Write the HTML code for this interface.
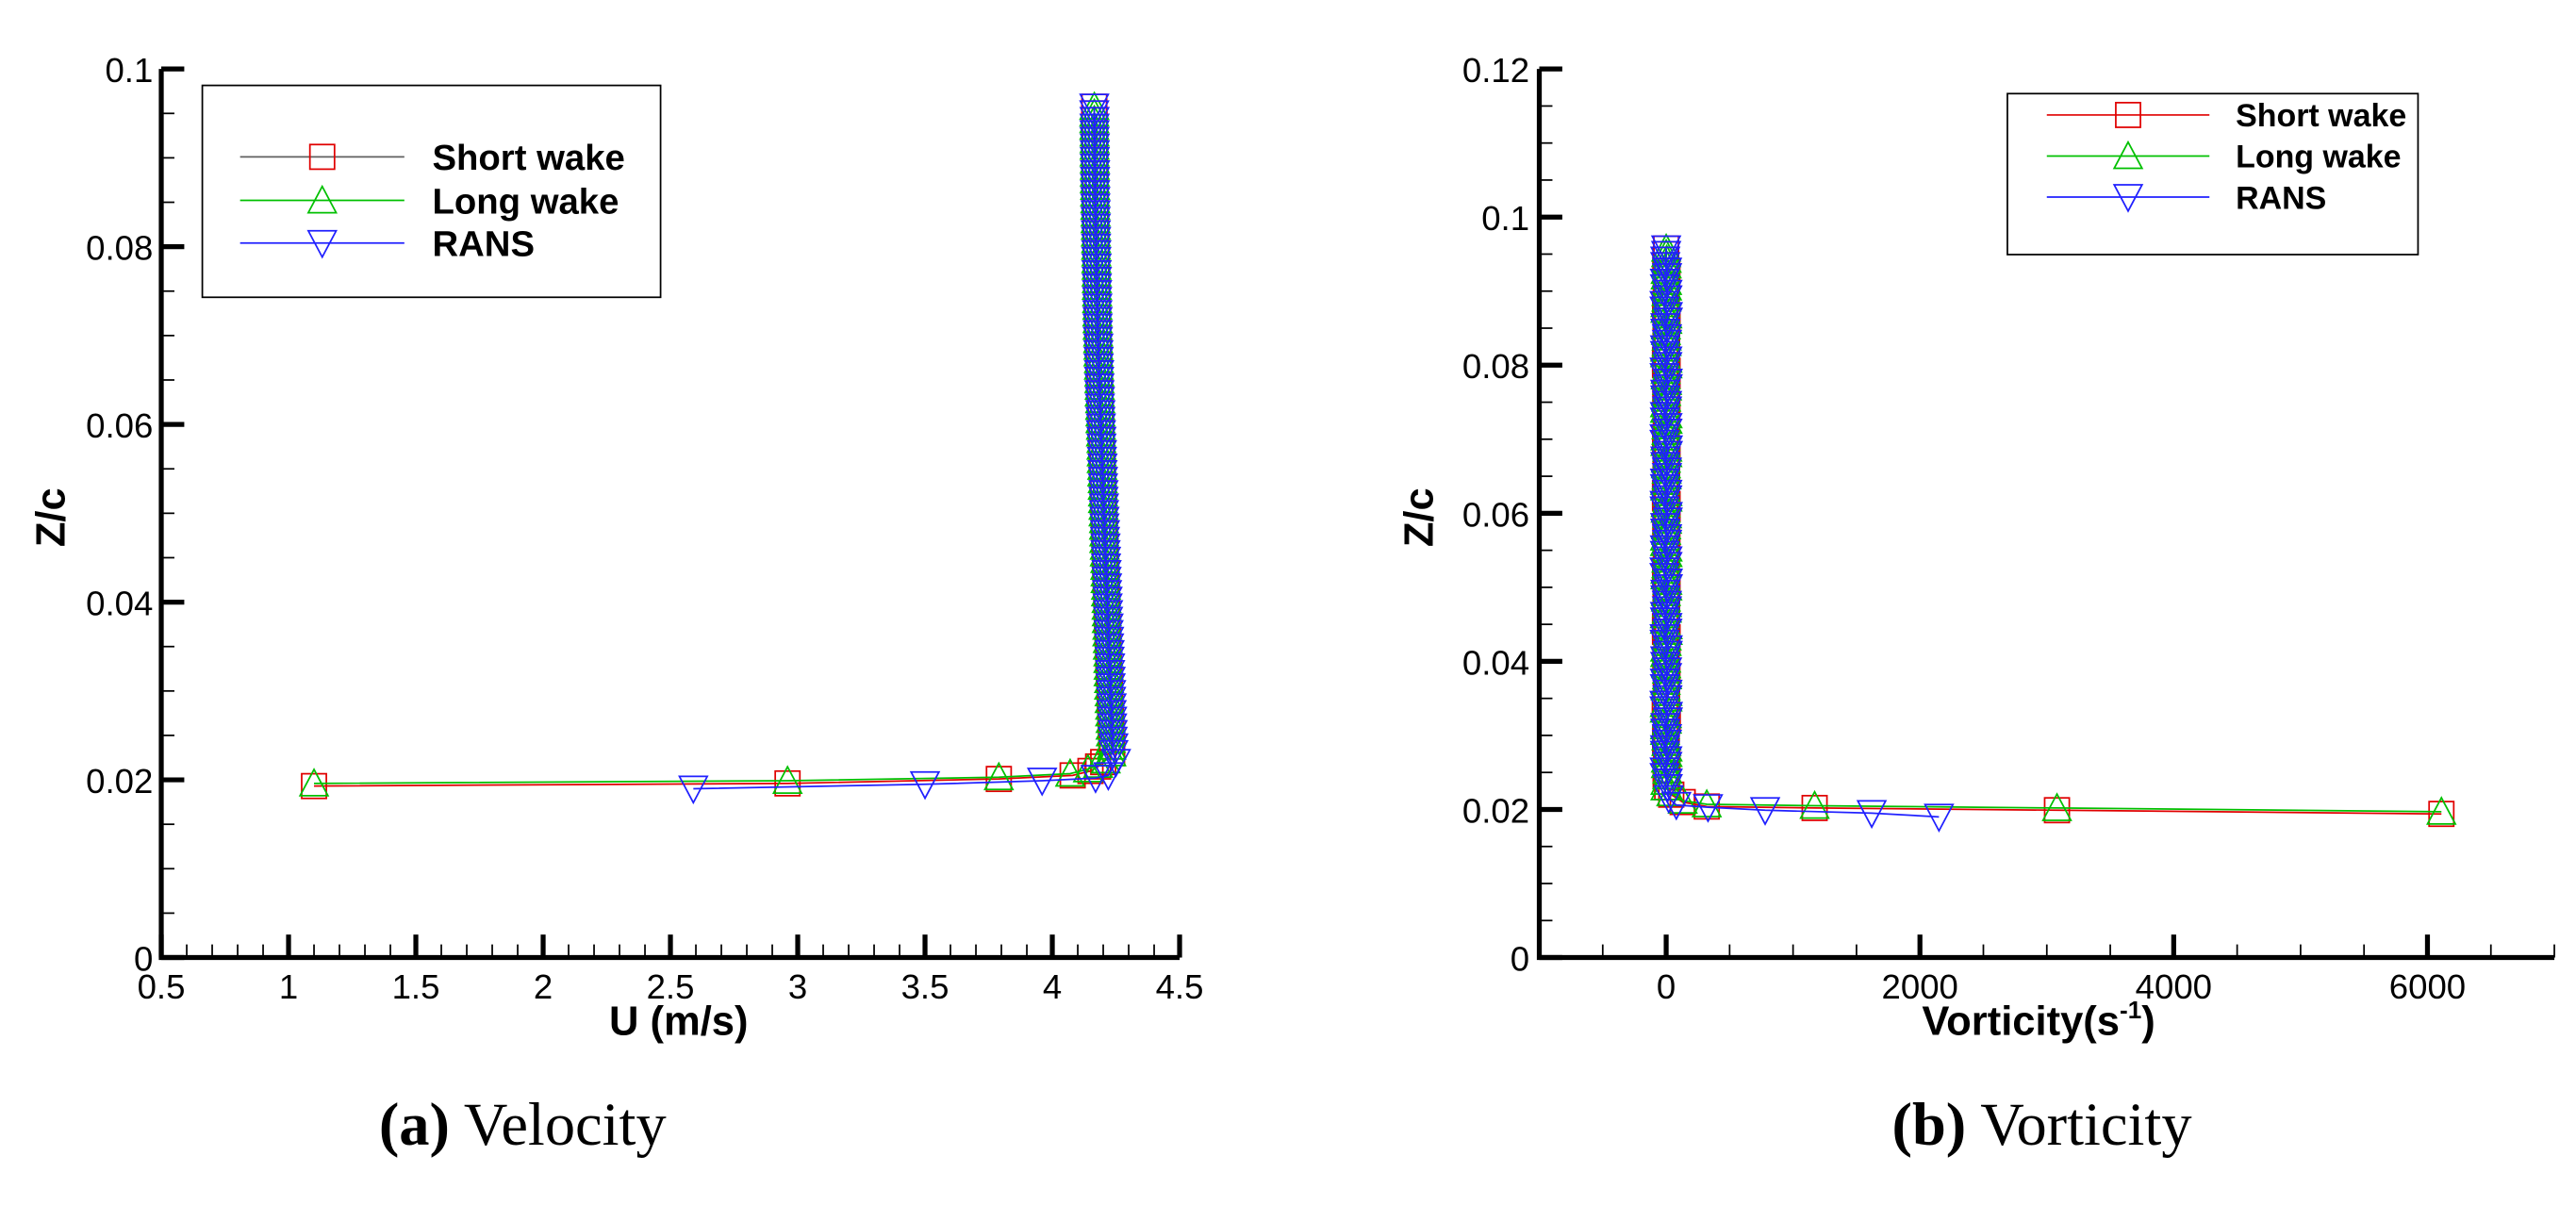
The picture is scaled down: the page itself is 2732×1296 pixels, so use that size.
<!DOCTYPE html>
<html><head><meta charset="utf-8">
<style>
html,body{margin:0;padding:0;background:#fff;}
svg{display:block;}
.tk{font-family:"Liberation Sans",sans-serif;font-size:21px;fill:#000;}
.ttl{font-family:"Liberation Sans",sans-serif;font-size:25px;font-weight:bold;fill:#000;}
.lg{font-family:"Liberation Sans",sans-serif;font-weight:bold;fill:#000;}
.cap{font-family:"Liberation Serif","DejaVu Serif",serif;font-size:37px;fill:#000;}
</style></head>
<body>
<svg id="fig" width="2732" height="1296" viewBox="0 0 1568 744" xmlns="http://www.w3.org/2000/svg">
<g id="chartA"></g>
<g id="chartB"></g>
<text class="cap" x="318" y="697" text-anchor="middle"><tspan font-weight="bold">(a)</tspan> Velocity</text>
<text class="cap" x="1243" y="697" text-anchor="middle"><tspan font-weight="bold">(b)</tspan> Vorticity</text>
</svg>
<script>
// ---- shared column heights (Z/c) ----
const columnZ = [0.023,0.0245,0.026,0.0275,0.029,0.0305,0.032,0.0335,0.035,0.0365,0.038,0.0395,0.041,0.0425,0.044,0.0455,0.047,0.0485,0.05,0.0515,0.053,0.0545,0.056,0.0575,0.059,0.0605,0.062,0.0635,0.065,0.0665,0.068,0.0695,0.071,0.0725,0.074,0.0755,0.077,0.0785,0.08,0.0815,0.083,0.0845,0.086,0.0875,0.089,0.0905,0.092,0.0935,0.095];
const columnZB = [0.02375,0.02525,0.02675,0.02825,0.02975,0.03125,0.03275,0.03425,0.03575,0.03725,0.03875,0.04025,0.04175,0.04325,0.04475,0.04625,0.04775,0.04925,0.05075,0.05225,0.05375,0.05525,0.05675,0.05825,0.05975,0.06125,0.06275,0.06425,0.06575,0.06725,0.06875,0.07025,0.07175,0.07325,0.07475,0.07625,0.07775,0.07925,0.08075,0.08225,0.08375,0.08525,0.08675,0.08825,0.08975,0.09125,0.09275,0.09425,0.09575];

// ---- chart A: velocity ----
const aShortLowU = [1.1,2.96,3.79,4.08,4.15,4.18,4.2];
const aShortLowZ = [0.0193,0.0196,0.0201,0.0205,0.021,0.0215,0.022];
const aLongLowU = [1.1,2.96,3.79,4.07,4.14,4.18,4.21];
const aLongLowZ = [0.0196,0.0199,0.0203,0.0207,0.0212,0.0217,0.0222];
const aRansLowU = [2.59,3.5,3.96,4.17,4.22,4.25];
const aRansLowZ = [0.019,0.0195,0.0199,0.0202,0.0205,0.022];
const aShortColU = [4.235,4.232,4.23,4.228,4.226,4.225,4.222,4.22,4.219,4.217,4.215,4.214,4.212,4.21,4.208,4.207,4.205,4.203,4.202,4.2,4.198,4.197,4.195,4.193,4.192,4.19,4.188,4.187,4.185,4.184,4.182,4.18,4.179,4.177,4.176,4.175,4.174,4.173,4.172,4.171,4.17,4.169,4.168,4.168,4.167,4.167,4.166,4.166,4.165];
const aLongColU = [4.232,4.23,4.229,4.227,4.225,4.223,4.221,4.22,4.218,4.216,4.214,4.213,4.211,4.209,4.208,4.206,4.204,4.203,4.201,4.199,4.198,4.196,4.194,4.193,4.191,4.189,4.188,4.186,4.185,4.183,4.181,4.18,4.178,4.177,4.176,4.175,4.174,4.173,4.172,4.171,4.17,4.169,4.168,4.167,4.167,4.166,4.166,4.165,4.165];
const aRansColU = [4.24,4.237,4.235,4.233,4.231,4.229,4.227,4.225,4.223,4.221,4.219,4.217,4.215,4.213,4.211,4.209,4.207,4.205,4.203,4.201,4.199,4.197,4.195,4.193,4.191,4.189,4.187,4.185,4.184,4.182,4.181,4.179,4.178,4.177,4.176,4.175,4.174,4.173,4.172,4.171,4.17,4.169,4.168,4.168,4.167,4.167,4.166,4.166,4.165];
const aXTicks = [0.5,1,1.5,2,2.5,3,3.5,4,4.5];
const aXTickLabels = ["0.5","1","1.5","2","2.5","3","3.5","4","4.5"];
const aYTicks = [0,0.02,0.04,0.06,0.08,0.1];
const aYTickLabels = ["0","0.02","0.04","0.06","0.08","0.1"];

// ---- chart B: vorticity ----
const bShortLowW = [6110,3080,1170,320,130,40];
const bShortLowZ = [0.0194,0.0199,0.0202,0.0204,0.021,0.022];
const bLongLowW = [6110,3080,1170,320,130,40];
const bLongLowZ = [0.0197,0.0202,0.0205,0.0207,0.0212,0.0222];
const bRansLowW = [2150,1620,780,330,80,20];
const bRansLowZ = [0.019,0.0195,0.0199,0.0203,0.0206,0.0215];
const bShortColW = [8,-4,10,0,-8,4,12,-10,6,-2,9,-6,2,11,-9,0,7,-4,10,-8,4,-2,9,-6,2,11,-9,0,7,-4,10,-8,4,-2,9,-6,2,11,-9,0,7,-4,10,-8,4,-2,9,-6,0];
const bLongColW = [-6,9,-2,11,2,-9,6,-11,10,-4,7,0,-8,4,12,-10,6,-2,9,-6,2,11,-9,0,7,-4,10,-8,4,-2,9,-6,2,11,-9,0,7,-4,10,-8,4,-2,9,-6,2,7,-4,4,0];
const bRansColW = [12,-12,9,-9,6,-6,13,-13,10,-10,7,-7,12,-12,9,-9,6,-6,13,-13,10,-10,7,-7,12,-12,9,-9,6,-6,13,-13,10,-10,7,-7,12,-12,9,-9,6,-6,13,-13,10,-10,7,-7,0];
const bXTicks = [0,2000,4000,6000];
const bXTickLabels = ["0","2000","4000","6000"];
const bYTicks = [0,0.02,0.04,0.06,0.08,0.1,0.12];
const bYTickLabels = ["0","0.02","0.04","0.06","0.08","0.1","0.12"];

const NS = "http://www.w3.org/2000/svg";
const RED = "#e00000", GREEN = "#00c000", BLUE = "#2020ff";
function mk(parent, tag, attrs) {
  const e = document.createElementNS(NS, tag);
  for (const k in attrs) e.setAttribute(k, attrs[k]);
  parent.appendChild(e);
  return e;
}
function marker(g, shape, x, y, color, s) {
  s = s || 7.5;
  let e;
  if (shape === 'sq') e = mk(g, 'rect', {x: x - s, y: y - s, width: 2 * s, height: 2 * s, fill: 'none', stroke: color, 'stroke-width': 1});
  else if (shape === 'up') e = mk(g, 'polygon', {points: `${x},${y - s - 1} ${x - s - 1},${y + s} ${x + s + 1},${y + s}`, fill: 'none', stroke: color, 'stroke-width': 1});
  else e = mk(g, 'polygon', {points: `${x},${y + s + 1} ${x - s - 1},${y - s} ${x + s + 1},${y - s}`, fill: 'none', stroke: color, 'stroke-width': 1});
  
  
  return e;
}
function withColumn(lowX, lowZ, colX) {
  const xs = lowX.slice(), zs = lowZ.slice();
  colX.forEach((v, i) => { xs.push(v); zs.push(columnZ[i]); xs.push(v); zs.push(columnZB[i]); });
  return [xs, zs];
}
function drawSeries(g, sx, sy, xs, zs, color, shape, name) {
  const sg = mk(g, 'g', {});
  
  
  const pts = xs.map((v, i) => `${sx(v)},${sy(zs[i])}`).join(' ');
  const pl = mk(sg, 'polyline', {points: pts, fill: 'none', stroke: color, 'stroke-width': 1});
  
  
  xs.forEach((v, i) => marker(sg, shape, sx(v), sy(zs[i]), color));
}
function axes(g, sx, sy, x0, x1, y0, y1, xt, xl, yt, yl, xMinorStep, yMinorStep, yLabX) {
  const left = sx(x0), right = sx(x1), bot = sy(y0), top = sy(y1);
  for (let v = y0; v <= y1 + 1e-9; v += yMinorStep) {
    const t = mk(g, 'line', {x1: left, x2: left + 8, y1: sy(v), y2: sy(v), stroke: '#000', 'stroke-width': 1});
    
    
  }
  for (let v = x0; v <= x1 + 1e-9; v += xMinorStep) {
    const t = mk(g, 'line', {x1: sx(v), x2: sx(v), y1: bot, y2: bot - 8, stroke: '#000', 'stroke-width': 1});
    
    
  }
  yt.forEach((v, i) => {
    const t = mk(g, 'line', {x1: left, x2: left + 14, y1: sy(v), y2: sy(v), stroke: '#000', 'stroke-width': 3});
    
    
    const tx = mk(g, 'text', {x: yLabX, y: sy(v) + 8, 'text-anchor': 'end', class: 'tk'});
    tx.textContent = yl[i];
    
    
  });
  xt.forEach((v, i) => {
    const t = mk(g, 'line', {x1: sx(v), x2: sx(v), y1: bot, y2: bot - 14, stroke: '#000', 'stroke-width': 3});
    
    
    const tx = mk(g, 'text', {x: sx(v), y: bot + 25, 'text-anchor': 'middle', class: 'tk'});
    tx.textContent = xl[i];
    
    
  });
  const ax = mk(g, 'path', {d: `M${left},${top} L${left},${bot} L${right},${bot}`, fill: 'none', stroke: '#000', 'stroke-width': 3});
  
  
}
function legend(g, x, y, w, h, lineX1, lineX2, textX, rowY, shortColor, fs, ms) {
  const lg = mk(g, 'g', {});
  
  
  const r = mk(lg, 'rect', {x: x, y: y, width: w, height: h, fill: '#fff', stroke: '#000', 'stroke-width': 1});
  
  
  const names = ['Short wake', 'Long wake', 'RANS'];
  const cols = [shortColor, GREEN, BLUE];
  const shapes = ['sq', 'up', 'dn'];
  names.forEach((n, i) => {
    const ey = rowY[i];
    const eg = mk(lg, 'g', {});
    
    
    mk(eg, 'line', {x1: lineX1, x2: lineX2, y1: ey, y2: ey, stroke: cols[i], 'stroke-width': 1});
    marker(eg, shapes[i], (lineX1 + lineX2) / 2, ey, i === 0 ? RED : cols[i], ms);
    const t = mk(eg, 'text', {x: textX, y: ey + fs * 0.36, class: 'lg', 'font-size': fs});
    t.textContent = n;
  });
}

// Chart A
(function () {
  const g = document.getElementById('chartA');
  const sx = v => 98 + (v - 0.5) / 4 * 620;
  const sy = v => 583 - v / 0.1 * 541;
  let d;
  d = withColumn(aShortLowU, aShortLowZ, aShortColU);
  drawSeries(g, sx, sy, d[0], d[1], RED, 'sq', 'series-short-wake');
  d = withColumn(aLongLowU, aLongLowZ, aLongColU);
  drawSeries(g, sx, sy, d[0], d[1], GREEN, 'up', 'series-long-wake');
  d = withColumn(aRansLowU, aRansLowZ, aRansColU);
  drawSeries(g, sx, sy, d[0], d[1], BLUE, 'dn', 'series-rans');
  axes(g, sx, sy, 0.5, 4.5, 0, 0.1, aXTicks, aXTickLabels, aYTicks, aYTickLabels, 0.1, 0.005, 93);
  legend(g, 123, 52, 279, 129, 146, 246, 263, [95.5, 122, 148], '#606060', 22, 7.5);
  const yt = mk(g, 'text', {x: 0, y: 0, class: 'ttl', transform: 'translate(39,315) rotate(-90)', 'text-anchor': 'middle'});
  yt.textContent = 'Z/c';
  
  
  const xt = mk(g, 'text', {x: 413, y: 630, class: 'ttl', 'text-anchor': 'middle'});
  xt.textContent = 'U (m/s)';
  
  
})();

// Chart B
(function () {
  const g = document.getElementById('chartB');
  const sx = v => 937 + (v + 1000) / 8000 * 618;
  const sy = v => 583 - v / 0.12 * 541;
  let d;
  d = withColumn(bShortLowW, bShortLowZ, bShortColW);
  drawSeries(g, sx, sy, d[0], d[1], RED, 'sq', 'series-short-wake');
  d = withColumn(bLongLowW, bLongLowZ, bLongColW);
  drawSeries(g, sx, sy, d[0], d[1], GREEN, 'up', 'series-long-wake');
  d = withColumn(bRansLowW, bRansLowZ, bRansColW);
  drawSeries(g, sx, sy, d[0], d[1], BLUE, 'dn', 'series-rans');
  axes(g, sx, sy, -1000, 7000, 0, 0.12, bXTicks, bXTickLabels, bYTicks, bYTickLabels, 500, 0.005, 931);
  legend(g, 1222, 57, 250, 98, 1246, 1345, 1361, [70, 95, 120], RED, 19.5, 7.5);
  const yt = mk(g, 'text', {x: 0, y: 0, class: 'ttl', transform: 'translate(872,315) rotate(-90)', 'text-anchor': 'middle'});
  yt.textContent = 'Z/c';
  
  
  const xt = mk(g, 'text', {x: 1241, y: 630, class: 'ttl', 'text-anchor': 'middle'});
  xt.innerHTML = 'Vorticity(s<tspan dy="-10" font-size="15">-1</tspan><tspan dy="10">)</tspan>';
  
  
})();
</script>
</body></html>
